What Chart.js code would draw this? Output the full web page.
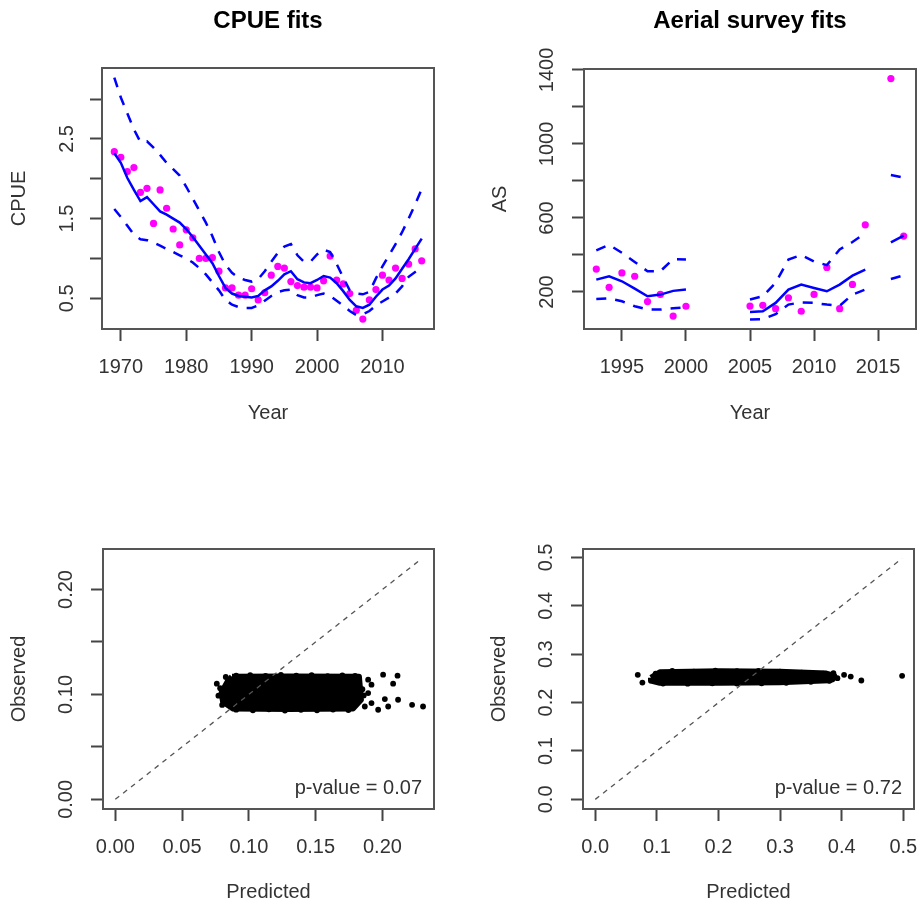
<!DOCTYPE html>
<html>
<head>
<meta charset="utf-8">
<script src="https://cdn.jsdelivr.net/npm/chart.js@4.4.1/dist/chart.umd.min.js"></script>
<style>
  body { margin: 0; background: #fff; }
  canvas { position: absolute; }
</style>
</head>
<body>
<canvas id="cpueChart" width="460" height="453" style="left:0;top:0"></canvas>
<canvas id="asChart" width="461" height="453" style="left:460px;top:0"></canvas>
<canvas id="cpuePpcChart" width="460" height="454" style="left:0;top:453px"></canvas>
<canvas id="asPpcChart" width="461" height="454" style="left:460px;top:453px"></canvas>
<script>
// ---- CPUE fits (1969-2016) ----
const cpueYears = [1969, 1970, 1971, 1972, 1973, 1974, 1975, 1976, 1977, 1978, 1979, 1980,
  1981, 1982, 1983, 1984, 1985, 1986, 1987, 1988, 1989, 1990, 1991, 1992, 1993, 1994, 1995,
  1996, 1997, 1998, 1999, 2000, 2001, 2002, 2003, 2004, 2005, 2006, 2007, 2008, 2009, 2010,
  2011, 2012, 2013, 2014, 2015, 2016];
const cpueObs = [2.34, 2.27, 2.09, 2.14, 1.83, 1.88, 1.44, 1.86, 1.63, 1.37, 1.17, 1.36,
  1.26, 1.00, 1.00, 1.01, 0.84, 0.63, 0.63, 0.54, 0.54, 0.62, 0.48, 0.57, 0.79, 0.90, 0.88,
  0.71, 0.66, 0.64, 0.64, 0.63, 0.72, 1.03, 0.73, 0.68, 0.56, 0.35, 0.24, 0.48, 0.61, 0.79,
  0.73, 0.88, 0.75, 0.93, 1.12, 0.97];
const cpueFit = [2.32, 2.20, 2.01, 1.86, 1.72, 1.77, 1.68, 1.59, 1.55, 1.50, 1.45, 1.37,
  1.27, 1.16, 1.05, 0.94, 0.78, 0.63, 0.56, 0.53, 0.52, 0.51, 0.53, 0.60, 0.65, 0.72, 0.80,
  0.84, 0.74, 0.70, 0.69, 0.73, 0.78, 0.76, 0.69, 0.59, 0.48, 0.40, 0.38, 0.42, 0.52, 0.61,
  0.66, 0.75, 0.87, 0.99, 1.12, 1.25];
const cpueUpper = [3.27, 3.02, 2.82, 2.62, 2.46, 2.47, 2.39, 2.30, 2.20, 2.12, 2.04, 1.90,
  1.75, 1.60, 1.45, 1.28, 1.08, 0.92, 0.82, 0.76, 0.73, 0.71, 0.74, 0.84, 0.96, 1.07, 1.15,
  1.18, 1.04, 0.96, 0.96, 1.05, 1.11, 1.08, 0.93, 0.76, 0.60, 0.56, 0.55, 0.58, 0.75, 0.90,
  1.04, 1.18, 1.33, 1.50, 1.68, 1.87];
const cpueLower = [1.62, 1.52, 1.41, 1.30, 1.24, 1.23, 1.20, 1.16, 1.12, 1.08, 1.04, 1.00,
  0.95, 0.88, 0.80, 0.70, 0.60, 0.48, 0.42, 0.39, 0.38, 0.38, 0.41, 0.47, 0.53, 0.58, 0.60,
  0.61, 0.54, 0.51, 0.51, 0.54, 0.56, 0.53, 0.47, 0.41, 0.34, 0.29, 0.30, 0.34, 0.41, 0.46,
  0.51, 0.56, 0.65, 0.77, 0.83, 0.89];
const cpueYearTicks = [1970, 1980, 1990, 2000, 2010];
const cpueValueTicks = [0.5, 1, 1.5, 2, 2.5, 3];
const cpueValueLabels = ['0.5', '', '1.5', '', '2.5', ''];

// ---- Aerial survey fits (1993-2017, no survey 2001-2004 and 2015) ----
const asYears = [1993, 1994, 1995, 1996, 1997, 1998, 1999, 2000, 2001, 2002, 2003, 2004,
  2005, 2006, 2007, 2008, 2009, 2010, 2011, 2012, 2013, 2014, 2015, 2016, 2017];
const asObs = [324, 225, 303, 285, 148, 187, 70, 123, null, null, null, null,
  124, 128, 110, 169, 96, 187, 333, 110, 241, 563, null, 1353, 502];
const asFit = [267, 285, 258, 218, 177, 186, 206, 213, null, null, null, null,
  92, 96, 141, 213, 240, 222, 204, 240, 288, 321, null, 468, 504];
const asUpper = [425, 455, 412, 362, 312, 312, 378, 376, null, null, null, null,
  159, 177, 250, 375, 400, 365, 345, 430, 470, 518, null, 832, 818];
const asLower = [162, 165, 150, 123, 105, 105, 112, 118, null, null, null, null,
  51, 54, 80, 132, 144, 141, 132, 125, 186, 213, null, 270, 290];
const asYearTicks = [1995, 2000, 2005, 2010, 2015];
const asValueTicks = [200, 400, 600, 800, 1000, 1200, 1400];
const asValueLabels = ['200', '', '600', '', '1000', '', '1400'];

// ---- posterior predictive check, CPUE ----
// outline of the dense cloud of draws, then the single draws round its edge
const cpueCloudX = [0.0874, 0.1300, 0.1824, 0.1839, 0.1779, 0.1300, 0.0882, 0.0807, 0.0796, 0.0841, 0.0874];
const cpueCloudY = [0.1169, 0.1172, 0.1169, 0.0950, 0.0866, 0.0862, 0.0866, 0.0930, 0.1016, 0.1121, 0.1169];
const cpueDrawX = [0.0760, 0.0827, 0.0772, 0.1893, 0.1918, 0.2005, 0.2113, 0.2080, 0.1893,
  0.2018, 0.2117, 0.1968, 0.2043, 0.2222, 0.2304, 0.1918, 0.1868,
  0.0905, 0.1010, 0.1125, 0.1240, 0.1355, 0.1470, 0.1590, 0.1700, 0.1795,
  0.0905, 0.1030, 0.1150, 0.1270, 0.1390, 0.1510, 0.1630, 0.1745,
  0.0785, 0.0800, 0.1850, 0.1860, 0.1820];
const cpueDrawY = [0.1102, 0.1166, 0.0988, 0.1141, 0.1093, 0.1188, 0.1179, 0.1102, 0.1013,
  0.0956, 0.0949, 0.0854, 0.0885, 0.0901, 0.0885, 0.0918, 0.0885,
  0.1178, 0.1183, 0.1176, 0.1186, 0.1179, 0.1184, 0.1175, 0.1181, 0.1176,
  0.0855, 0.0849, 0.0858, 0.0846, 0.0853, 0.0848, 0.0856, 0.0851,
  0.1060, 0.0900, 0.1050, 0.0990, 0.1120];
const cpuePpcTicks = [0, 0.05, 0.10, 0.15, 0.20];
const cpuePpcXLabels = ['0.00', '0.05', '0.10', '0.15', '0.20'];
const cpuePpcYLabels = ['0.00', '', '0.10', '', '0.20'];
const cpuePpcMax = 0.2294;
const cpuePValue = '0.07';

// ---- posterior predictive check, aerial survey ----
const asCloudX = [0.0905, 0.1050, 0.2019, 0.2989, 0.3750, 0.3877, 0.3850, 0.3796, 0.2989, 0.2019, 0.1050, 0.0921, 0.0905];
const asCloudY = [0.2511, 0.2625, 0.2646, 0.2636, 0.2600, 0.2553, 0.2480, 0.2460, 0.2418, 0.2408, 0.2408, 0.2449, 0.2511];
const asDrawX = [0.0690, 0.0765, 0.4039, 0.4147, 0.4319, 0.4981, 0.3931, 0.3866,
  0.0980, 0.1250, 0.1600, 0.1950, 0.2300, 0.2650, 0.3000, 0.3350, 0.3700,
  0.1100, 0.1500, 0.1900, 0.2300, 0.2700, 0.3100, 0.3500, 0.3800];
const asDrawY = [0.2573, 0.2414, 0.2573, 0.2538, 0.2456, 0.2553, 0.2505, 0.2609,
  0.2600, 0.2655, 0.2640, 0.2660, 0.2648, 0.2655, 0.2640, 0.2620, 0.2600,
  0.2395, 0.2390, 0.2400, 0.2392, 0.2400, 0.2410, 0.2430, 0.2450];
const asPpcTicks = [0, 0.1, 0.2, 0.3, 0.4, 0.5];
const asPpcLabels = ['0.0', '0.1', '0.2', '0.3', '0.4', '0.5'];
const asPpcMax = 0.498;
const asPValue = '0.72';

Chart.defaults.font.family = '"Liberation Sans", Arial, sans-serif';
Chart.defaults.font.size = 20;
Chart.defaults.color = '#333';

const toPoints = (xs, ys) => xs.map((x, i) => ({ x: x, y: ys[i] }));

// box round the plot region plus an optional note in the bottom right corner
const framePlugin = {
    id: 'frame',
    afterDatasetsDraw(chart, args, opts) {
        const { ctx, chartArea: a } = chart;
        ctx.save();
        ctx.strokeStyle = '#555';
        ctx.lineWidth = 2;
        ctx.strokeRect(a.left, a.top, a.right - a.left, a.bottom - a.top);
        if (opts.note) {
            ctx.font = '20px "Liberation Sans", Arial, sans-serif';
            ctx.fillStyle = '#333';
            ctx.textAlign = 'right';
            ctx.textBaseline = 'middle';
            ctx.fillText(opts.note, a.right - 12, a.bottom - 21);
        }
        ctx.restore();
    }
};

function axis(opts) {
    return {
        type: 'linear',
        min: opts.min,
        max: opts.max,
        border: { display: false },
        grid: { drawOnChartArea: false, drawTicks: true, tickLength: 12, tickWidth: 2, tickColor: '#444' },
        afterBuildTicks: s => { s.ticks = opts.ticks.map(v => ({ value: v })); },
        afterFit: s => {
            if (opts.width) s.width = opts.width;
            if (opts.height) s.height = opts.height;
            s.paddingLeft = s.paddingRight = s.paddingTop = s.paddingBottom = 0;
        },
        ticks: {
            autoSkip: false,
            padding: opts.pad,
            minRotation: opts.rot || 0,
            maxRotation: opts.rot || 0,
            crossAlign: opts.rot ? 'center' : 'near',
            callback: (v, i) => opts.labels[i]
        },
        title: { display: true, text: opts.title, padding: opts.titlePad }
    };
}

function panel(id, cfg) {
    return new Chart(document.getElementById(id), {
        type: 'scatter',
        data: { datasets: cfg.datasets },
        plugins: [framePlugin],
        options: {
            responsive: false,
            animation: false,
            devicePixelRatio: 1,
            layout: { padding: cfg.padding },
            plugins: {
                legend: { display: false },
                tooltip: { enabled: false },
                frame: { note: cfg.note },
                title: cfg.title ? {
                    display: true, text: cfg.title, color: '#000', fullSize: false,
                    font: { size: 24, weight: 'bold' }, padding: cfg.titlePad
                } : { display: false }
            },
            scales: { x: cfg.x, y: cfg.y }
        }
    });
}

function fitDatasets(years, obs, fit, upper, lower) {
    const line = { showLine: true, pointRadius: 0, borderColor: '#0000ff', borderWidth: 2.5, fill: false };
    return [
        Object.assign({}, line, { data: toPoints(years, fit), order: 1 }),
        Object.assign({}, line, { data: toPoints(years, upper), borderDash: [10, 9], order: 2 }),
        Object.assign({}, line, { data: toPoints(years, lower), borderDash: [10, 9], order: 3 }),
        { data: toPoints(years, obs), pointRadius: 3.6, pointBackgroundColor: '#ff00ff', pointBorderWidth: 0, order: 4 }
    ];
}

function ppcDatasets(cloudX, cloudY, drawX, drawY, max) {
    return [
        { data: [{ x: 0, y: 0 }, { x: max, y: max }], showLine: true, pointRadius: 0,
          borderColor: '#555', borderWidth: 1.3, borderDash: [5, 5], order: 1 },
        { data: toPoints(cloudX, cloudY), showLine: true, pointRadius: 0, fill: 'shape',
          backgroundColor: '#000', borderColor: '#000', borderWidth: 6, borderJoinStyle: 'round', order: 2 },
        { data: toPoints(drawX, drawY), pointRadius: 2.9, pointBackgroundColor: '#000', pointBorderWidth: 0, order: 3 }
    ];
}

panel('cpueChart', {
    title: 'CPUE fits',
    titlePad: { top: 6.6, bottom: 32.6 },
    padding: { left: 0, right: 26, top: 0, bottom: 0 },
    datasets: fitDatasets(cpueYears, cpueObs, cpueFit, cpueUpper, cpueLower),
    x: axis({ min: 1967.12, max: 2017.88, ticks: cpueYearTicks, labels: cpueYearTicks.map(String),
        height: 124, pad: 14, title: 'Year', titlePad: { top: 0, bottom: 28 } }),
    y: axis({ min: 0.115, max: 3.39, ticks: cpueValueTicks, labels: cpueValueLabels,
        width: 102, pad: 8.6, rot: 90, title: 'CPUE', titlePad: { top: 7, bottom: 0 } })
});

panel('asChart', {
    title: 'Aerial survey fits',
    titlePad: { top: 6.6, bottom: 33.6 },
    padding: { left: 0, right: 5, top: 0, bottom: 0 },
    datasets: fitDatasets(asYears, asObs, asFit, asUpper, asLower),
    x: axis({ min: 1992.04, max: 2017.96, ticks: asYearTicks, labels: asYearTicks.map(String),
        height: 124, pad: 14, title: 'Year', titlePad: { top: 0, bottom: 28 } }),
    y: axis({ min: 0, max: 1405, ticks: asValueTicks, labels: asValueLabels,
        width: 124, pad: 2, rot: 90, title: 'AS', titlePad: { top: 28, bottom: 0 } })
});

panel('cpuePpcChart', {
    note: 'p-value = ' + cpuePValue,
    padding: { left: 0, right: 26, top: 96, bottom: 0 },
    datasets: ppcDatasets(cpueCloudX, cpueCloudY, cpueDrawX, cpueDrawY, cpuePpcMax),
    x: axis({ min: -0.0092, max: 0.2386, ticks: cpuePpcTicks, labels: cpuePpcXLabels,
        height: 98, pad: 14, title: 'Predicted', titlePad: { top: 0, bottom: 3 } }),
    y: axis({ min: -0.0092, max: 0.2386, ticks: cpuePpcTicks, labels: cpuePpcYLabels,
        width: 103, pad: 5.5, rot: 90, title: 'Observed', titlePad: { top: 7, bottom: 0 } })
});

panel('asPpcChart', {
    note: 'p-value = ' + asPValue,
    padding: { left: 0, right: 7, top: 96, bottom: 0 },
    datasets: ppcDatasets(asCloudX, asCloudY, asDrawX, asDrawY, asPpcMax),
    x: axis({ min: -0.0199, max: 0.5174, ticks: asPpcTicks, labels: asPpcLabels,
        height: 98, pad: 14, title: 'Predicted', titlePad: { top: 0, bottom: 3 } }),
    y: axis({ min: -0.0199, max: 0.5174, ticks: asPpcTicks, labels: asPpcLabels,
        width: 123, pad: 10.4, rot: 90, title: 'Observed', titlePad: { top: 27, bottom: 0 } })
});
</script>
</body>
</html>
